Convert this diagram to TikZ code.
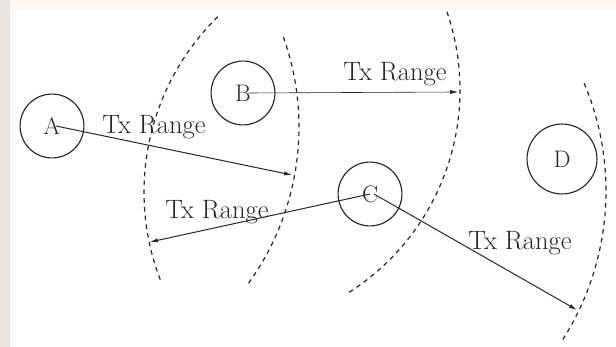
\documentclass[tikz,border=0pt]{standalone}
\usetikzlibrary{arrows.meta}
\definecolor{ink}{HTML}{262626}
\definecolor{leftband}{HTML}{E9E6E0}
\definecolor{topband}{HTML}{FCFBF3}
\begin{document}
\begin{tikzpicture}[x=0.02646cm,y=-0.02646cm,
  station/.style={circle,draw=ink,line width=0.85pt,minimum size=1.69cm,inner sep=0pt,font=\fontsize{18}{20}\selectfont,text=ink},
  rangearc/.style={draw=ink,line width=0.9pt,dash pattern=on 3.4pt off 3.2pt},
  txarrow/.style={draw=ink,line width=0.75pt,-{Latex[length=6pt,width=3.2pt]}},
  txlabel/.style={font=\fontsize{20}{22}\selectfont,text=ink,inner sep=0pt}]
\useasboundingbox (0,0) rectangle (616,347);
\fill[white] (0,0) rectangle (616,347);
\fill[topband] (0,0) rectangle (616,10);
\fill[leftband] (0,0) rectangle (10,347);

% stations
\node[station] (A) at (52,126) {A};
\node[station] (B) at (243,93) {B};
\node[station] (C) at (370,194) {C};
\node[station,minimum height=1.85cm,minimum width=1.72cm] (D) at (562,159) {D};

% range arcs
\draw[rangearc] (389,192) ++(225.7:245) arc[start angle=225.7, end angle=158.4, radius=245];
\draw[rangearc] (32,127) ++(-19.7:267) arc[start angle=-19.7, end angle=35.8, radius=267];
\draw[rangearc] (220,90) ++(-19:240) arc[start angle=-19, end angle=57.8, radius=240];
\draw[rangearc] (329,191) ++(-22.9:277) arc[start angle=-22.9, end angle=33.1, radius=277];

% arrow ends
\coordinate (tA) at (292,175);
\coordinate (tB) at (458,92);
\coordinate (tCl) at (150,242);
\coordinate (tCr) at (577,310);

\draw[txarrow] ([xshift=3]A.center) -- (tA);
\draw[txarrow,line width=0.45pt] ([xshift=4]B.center) -- (tB);
\draw[txarrow] (C.center) -- (tCl);
\draw[txarrow] ([xshift=3]C.center) -- (tCr);

% labels
\node[txlabel] (lA) at (154,127) {Tx Range};
\node[txlabel] (lB) at (395,74) {Tx Range};
\node[txlabel] (lCl) at (217,212) {Tx Range};
\node[txlabel] (lCr) at (520,243) {Tx Range};
\end{tikzpicture}
\end{document}
